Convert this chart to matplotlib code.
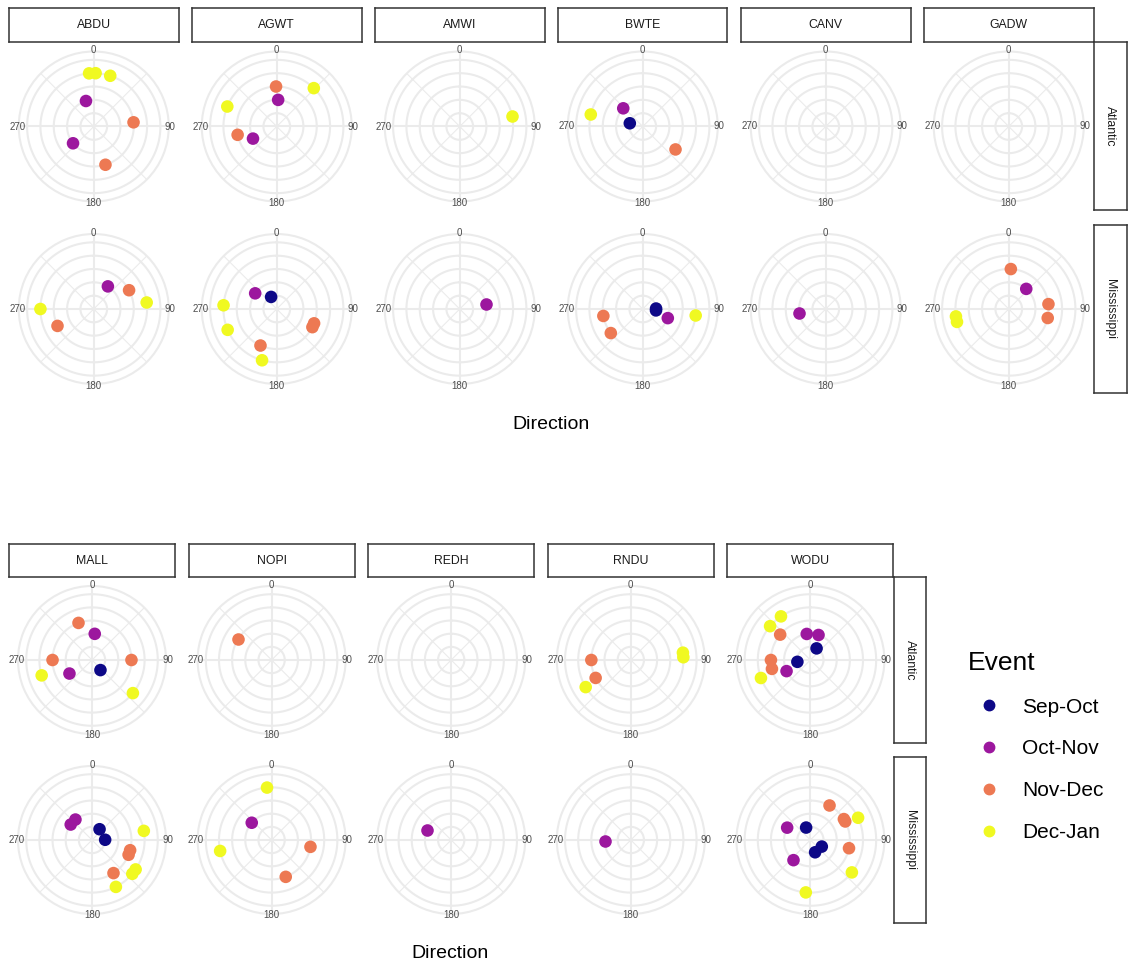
import numpy as np
import matplotlib.pyplot as plt
from matplotlib.lines import Line2D

plt.rcParams['font.family'] = ['Liberation Sans', 'DejaVu Sans']

W, H = 1130, 963

events = ['Sep-Oct', 'Oct-Nov', 'Nov-Dec', 'Dec-Jan']
event_colors = ['#0D0887', '#9C179E', '#ED7953', '#F0F921']
flyways = ['Atlantic', 'Mississippi']
species_top = ['ABDU', 'AGWT', 'AMWI', 'BWTE', 'CANV', 'GADW']
species_bottom = ['MALL', 'NOPI', 'REDH', 'RNDU', 'WODU']

# (event, direction in degrees) for each species / flyway
abdu_atl = [('Dec-Jan', 355), ('Dec-Jan', 2), ('Dec-Jan', 18), ('Oct-Nov', 343),
            ('Oct-Nov', 231), ('Nov-Dec', 84), ('Nov-Dec', 163)]
agwt_atl = [('Nov-Dec', 359), ('Nov-Dec', 258), ('Dec-Jan', 44), ('Dec-Jan', 292),
            ('Oct-Nov', 3), ('Oct-Nov', 243)]
amwi_atl = [('Dec-Jan', 79)]
bwte_atl = [('Dec-Jan', 283), ('Oct-Nov', 313), ('Sep-Oct', 284), ('Nov-Dec', 125)]
canv_atl = []
gadw_atl = []

abdu_mis = [('Oct-Nov', 32), ('Nov-Dec', 62), ('Dec-Jan', 83), ('Dec-Jan', 270),
            ('Nov-Dec', 245)]
agwt_mis = [('Oct-Nov', 306), ('Sep-Oct', 335), ('Dec-Jan', 274), ('Nov-Dec', 111),
            ('Nov-Dec', 117), ('Dec-Jan', 247), ('Nov-Dec', 204), ('Dec-Jan', 196)]
amwi_mis = [('Oct-Nov', 79)]
bwte_mis = [('Sep-Oct', 88), ('Sep-Oct', 96), ('Oct-Nov', 110), ('Dec-Jan', 97),
            ('Nov-Dec', 260), ('Nov-Dec', 233)]
canv_mis = [('Oct-Nov', 262)]
gadw_mis = [('Nov-Dec', 3), ('Oct-Nov', 41), ('Nov-Dec', 83), ('Nov-Dec', 103),
            ('Dec-Jan', 262), ('Dec-Jan', 256)]

mall_atl = [('Nov-Dec', 340), ('Oct-Nov', 6), ('Nov-Dec', 270), ('Nov-Dec', 90),
            ('Oct-Nov', 239), ('Sep-Oct', 140), ('Dec-Jan', 253), ('Dec-Jan', 129)]
nopi_atl = [('Nov-Dec', 302)]
redh_atl = []
rndu_atl = [('Dec-Jan', 82), ('Dec-Jan', 87), ('Nov-Dec', 270), ('Nov-Dec', 243),
            ('Dec-Jan', 239)]
wodu_atl = [('Dec-Jan', 326), ('Dec-Jan', 310), ('Nov-Dec', 310), ('Oct-Nov', 352),
            ('Oct-Nov', 18), ('Sep-Oct', 28), ('Nov-Dec', 270), ('Nov-Dec', 257),
            ('Sep-Oct', 262), ('Oct-Nov', 245), ('Dec-Jan', 250)]

mall_mis = [('Oct-Nov', 306), ('Oct-Nov', 321), ('Sep-Oct', 35), ('Sep-Oct', 89),
            ('Dec-Jan', 80), ('Nov-Dec', 105), ('Nov-Dec', 112), ('Dec-Jan', 124),
            ('Dec-Jan', 130), ('Nov-Dec', 147), ('Dec-Jan', 153)]
nopi_mis = [('Dec-Jan', 355), ('Oct-Nov', 311), ('Dec-Jan', 258), ('Nov-Dec', 100),
            ('Nov-Dec', 159)]
redh_mis = [('Oct-Nov', 293)]
rndu_mis = [('Oct-Nov', 268)]
wodu_mis = [('Nov-Dec', 29), ('Nov-Dec', 58), ('Nov-Dec', 62), ('Dec-Jan', 65),
            ('Oct-Nov', 298), ('Sep-Oct', 341), ('Sep-Oct', 120), ('Sep-Oct', 159),
            ('Nov-Dec', 102), ('Oct-Nov', 220), ('Dec-Jan', 128), ('Dec-Jan', 185)]

moves = {
    ('ABDU', 'Atlantic'): abdu_atl, ('AGWT', 'Atlantic'): agwt_atl,
    ('AMWI', 'Atlantic'): amwi_atl, ('BWTE', 'Atlantic'): bwte_atl,
    ('CANV', 'Atlantic'): canv_atl, ('GADW', 'Atlantic'): gadw_atl,
    ('ABDU', 'Mississippi'): abdu_mis, ('AGWT', 'Mississippi'): agwt_mis,
    ('AMWI', 'Mississippi'): amwi_mis, ('BWTE', 'Mississippi'): bwte_mis,
    ('CANV', 'Mississippi'): canv_mis, ('GADW', 'Mississippi'): gadw_mis,
    ('MALL', 'Atlantic'): mall_atl, ('NOPI', 'Atlantic'): nopi_atl,
    ('REDH', 'Atlantic'): redh_atl, ('RNDU', 'Atlantic'): rndu_atl,
    ('WODU', 'Atlantic'): wodu_atl,
    ('MALL', 'Mississippi'): mall_mis, ('NOPI', 'Mississippi'): nopi_mis,
    ('REDH', 'Mississippi'): redh_mis, ('RNDU', 'Mississippi'): rndu_mis,
    ('WODU', 'Mississippi'): wodu_mis,
}

GRID = '#EBEBEB'
R_MAX = 5.625  # outer ring sits a little past the last event ring

fig = plt.figure(figsize=(W / 100, H / 100), dpi=100)


def px_rect(x, y, w, h):
    return [x / W, 1 - (y + h) / H, w / W, h / H]


def strip(x, y, w, h, label, rotation=0):
    ax = fig.add_axes(px_rect(x, y, w, h))
    ax.set_xticks([])
    ax.set_yticks([])
    for s in ax.spines.values():
        s.set_color('#333333')
        s.set_linewidth(1.1)
    ax.text(0.5, 0.5, label, rotation=rotation, ha='center', va='center',
            fontsize=8.8, color='#1A1A1A', transform=ax.transAxes)


def polar_panel(cx, cy, R, data):
    ax = fig.add_axes(px_rect(cx - R, cy - R, 2 * R, 2 * R), projection='polar')
    ax.set_theta_zero_location('N')
    ax.set_theta_direction(-1)
    ax.set_ylim(0, R_MAX)
    ax.set_xticks([])
    ax.set_yticks([])
    ax.grid(False)
    ax.spines['polar'].set_color(GRID)
    ax.spines['polar'].set_linewidth(1.5)

    t = np.linspace(0, 2 * np.pi, 361)
    for r in range(1, 6):
        ax.plot(t, np.full_like(t, r), color=GRID, lw=1.5, zorder=1)
    for a in range(0, 360, 45):
        lw = 1.5 if a % 90 == 0 else 0.8
        ax.plot([np.radians(a)] * 2, [0, R_MAX], color=GRID, lw=lw, zorder=1)
    for a in (0, 90, 180, 270):
        ax.text(np.radians(a), R_MAX * 1.02, str(a), ha='center', va='center',
                fontsize=7, color='#4D4D4D', clip_on=False, zorder=4)

    if data:
        ev, deg = zip(*data)
        idx = np.array([events.index(e) for e in ev])
        ax.scatter(np.radians(deg), idx + 1, c=[event_colors[i] for i in idx],
                   s=82, linewidths=0, zorder=3, clip_on=False)


def facet_block(species, x0, pitch, w, strip_top, row_tops, ph):
    for j, sp in enumerate(species):
        x = x0 + j * pitch
        strip(x, strip_top, w, row_tops[0] - strip_top, sp)
        for i, fw in enumerate(flyways):
            cx = x + w / 2
            cy = row_tops[i] + ph / 2
            polar_panel(cx, cy, min(w, ph) / 2 - 9, moves[(sp, fw)])
    xr = x0 + (len(species) - 1) * pitch + w + 0.5
    for i, fw in enumerate(flyways):
        strip(xr, row_tops[i], 32.5, ph, fw, rotation=-90)


facet_block(species_top, 9, 183, 169.5, 8, [42.5, 225], 168)
facet_block(species_bottom, 9, 179.6, 166, 544, [577, 757], 166)

fig.text(551 / W, 1 - 424 / H, 'Direction', ha='center', va='center', fontsize=14)
fig.text(450 / W, 1 - 953 / H, 'Direction', ha='center', va='center', fontsize=14)

handles = [Line2D([], [], marker='o', ls='', color=c, markersize=7.5)
           for c in event_colors]
fig.legend(handles, events, title='Event', loc='upper left',
           bbox_to_anchor=(968 / W, 1 - 651 / H), frameon=False, fontsize=15,
           title_fontsize=19, handlelength=2, handletextpad=0.6,
           labelspacing=1.09, borderpad=0, borderaxespad=0, alignment='left')

fig.savefig('out.png', dpi=100)
